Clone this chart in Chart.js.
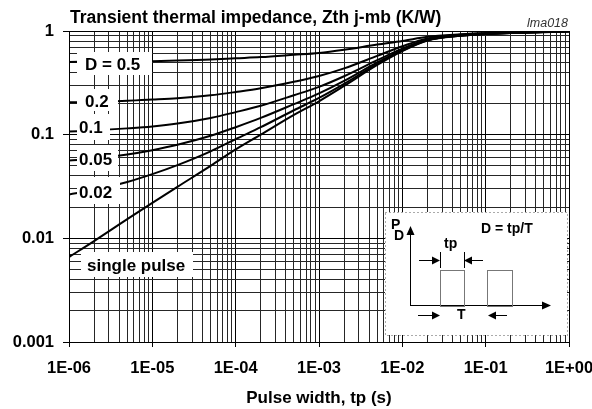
<!DOCTYPE html>
<html>
<head>
<meta charset="utf-8">
<script src="https://cdn.jsdelivr.net/npm/chart.js@4/dist/chart.umd.min.js"></script>
<style>
  html, body { margin: 0; padding: 0; background: #fff; overflow: hidden; }
  canvas { display: block; }
</style>
</head>
<body>
<canvas id="zth" width="592" height="409"></canvas>
<script>
// Transient thermal impedance Zth j-mb vs pulse width, per duty cycle

const pulseWidth = [1e-6, 2e-6, 5e-6, 1e-5, 2e-5, 5e-5, 1e-4, 2e-4, 5e-4, 1e-3, 2e-3, 5e-3, 1e-2, 2e-2, 5e-2, 1e-1, 2e-1, 5e-1, 1];

const zthD05    = [0.503, 0.505, 0.508, 0.512, 0.518, 0.530, 0.545, 0.560, 0.590, 0.615, 0.660, 0.740, 0.800, 0.880, 0.930, 0.955, 0.970, 0.985, 0.998];
const zthD02    = [0.205, 0.2075, 0.212, 0.218, 0.225, 0.240, 0.258, 0.280, 0.324, 0.368, 0.436, 0.576, 0.712, 0.848, 0.920, 0.948, 0.964, 0.980, 0.995];
const zthD01    = [0.107, 0.110, 0.115, 0.120, 0.128, 0.145, 0.165, 0.190, 0.240, 0.289, 0.366, 0.523, 0.676, 0.829, 0.910, 0.942, 0.960, 0.978, 0.993];
const zthD005   = [0.0563, 0.0589, 0.0645, 0.0709, 0.0798, 0.0975, 0.118, 0.145, 0.197, 0.250, 0.330, 0.497, 0.658, 0.820, 0.905, 0.938, 0.957, 0.976, 0.992];
const zthD002   = [0.0265, 0.0292, 0.035, 0.0416, 0.0508, 0.069, 0.0906, 0.118, 0.172, 0.226, 0.309, 0.481, 0.647, 0.814, 0.902, 0.936, 0.956, 0.976, 0.991];
const zthSingle = [0.0066, 0.0094, 0.0153, 0.022, 0.0314, 0.050, 0.072, 0.100, 0.155, 0.210, 0.295, 0.470, 0.640, 0.810, 0.900, 0.935, 0.955, 0.975, 0.990];

const xDecades = [1e-6, 1e-5, 1e-4, 1e-3, 1e-2, 1e-1, 1];
const xTickLabels = ['1E-06', '1E-05', '1E-04', '1E-03', '1E-02', '1E-01', '1E+00'];
const yDecades = [0.001, 0.01, 0.1, 1];
const yTickLabels = ['0.001', '0.01', '0.1', '1'];

const FONT = "'Liberation Sans', Arial, Helvetica, sans-serif";

function pts(arr) {
  return arr.map((v, i) => ({ x: pulseWidth[i], y: v }));
}

function logTicks(decades, labels) {
  const t = [];
  decades.forEach((d, i) => {
    if (i === decades.length - 1) { t.push({ value: d, major: true, lbl: labels[i] }); return; }
    for (let m = 1; m <= 9; m++) t.push({ value: d * m, major: m === 1, lbl: m === 1 ? labels[i] : '' });
  });
  return t;
}

const gridOpts = {
  color: c => (c.tick && c.tick.major) ? '#000' : '#262626',
  tickColor: c => (c.tick && c.tick.major) ? '#000' : 'rgba(0,0,0,0)',
  lineWidth: 1,
  tickLength: 6
};

function line(data) {
  return {
    data: pts(data),
    borderColor: '#000',
    borderWidth: 2,
    pointRadius: 0,
    fill: false,
    cubicInterpolationMode: 'monotone'
  };
}

// white label boxes, inset diagram and free texts
const decorPlugin = {
  id: 'decor',
  afterDatasetsDraw(chart) {
    const c = chart.ctx;
    c.save();

    // curve labels
    const labels = [
      { t: 'D = 0.5', box: [77, 52, 75, 23], tx: 85, ty: 70 },
      { t: '0.2', box: [77, 89, 41, 22], tx: 85, ty: 107 },
      { t: '0.1', box: [77, 114, 33, 26], tx: 79, ty: 133 },
      { t: '0.05', box: [77, 145, 41, 26], tx: 79, ty: 165 },
      { t: '0.02', box: [77, 177, 43, 27], tx: 79, ty: 198 },
      { t: 'single pulse', box: [81, 252, 112, 25], tx: 87, ty: 271 }
    ];
    c.font = 'bold 17px ' + FONT;
    c.textBaseline = 'alphabetic';
    c.textAlign = 'left';
    labels.forEach(l => {
      c.fillStyle = '#fff';
      c.fillRect(l.box[0], l.box[1], l.box[2], l.box[3]);
      c.fillStyle = '#000';
      c.fillText(l.t, l.tx, l.ty);
    });

    // inset
    c.fillStyle = '#fff';
    c.fillRect(385, 212, 182, 123);
    c.strokeStyle = '#555';
    c.lineWidth = 1;
    c.setLineDash([1, 3]);
    c.strokeRect(385.5, 212.5, 182, 123);
    c.setLineDash([]);

    c.strokeStyle = '#000';
    c.fillStyle = '#000';
    c.beginPath();
    c.moveTo(410.5, 306); c.lineTo(410.5, 234);
    c.moveTo(410, 305.5); c.lineTo(542, 305.5);
    c.stroke();
    // arrow heads
    c.beginPath(); c.moveTo(410.5, 226); c.lineTo(406.5, 235); c.lineTo(414.5, 235); c.closePath(); c.fill();
    c.beginPath(); c.moveTo(551, 305.5); c.lineTo(542, 301.5); c.lineTo(542, 309.5); c.closePath(); c.fill();

    // pulses
    c.strokeStyle = '#777';
    c.strokeRect(440.5, 270.5, 24, 36);
    c.strokeRect(487.5, 270.5, 25, 36);

    function arrowRight(x0, x1, y) {
      c.beginPath(); c.moveTo(x0, y + 0.5); c.lineTo(x1 - 6, y + 0.5); c.stroke();
      c.beginPath(); c.moveTo(x1, y + 0.5); c.lineTo(x1 - 8, y - 3.5); c.lineTo(x1 - 8, y + 4.5); c.closePath(); c.fill();
    }
    function arrowLeft(x0, x1, y) {
      c.beginPath(); c.moveTo(x0, y + 0.5); c.lineTo(x1 + 6, y + 0.5); c.stroke();
      c.beginPath(); c.moveTo(x1, y + 0.5); c.lineTo(x1 + 8, y - 3.5); c.lineTo(x1 + 8, y + 4.5); c.closePath(); c.fill();
    }
    c.strokeStyle = '#000';
    arrowRight(419, 440, 260);
    arrowLeft(483, 464, 260);
    c.beginPath();
    c.moveTo(440.5, 252); c.lineTo(440.5, 268);
    c.moveTo(464.5, 252); c.lineTo(464.5, 268);
    c.stroke();
    arrowRight(418, 440, 315);
    arrowLeft(507, 488, 315);

    c.font = 'bold 14px ' + FONT;
    c.fillText('P', 391, 229);
    c.fillText('D', 394, 240);
    c.fillText('D = tp/T', 481, 233);
    c.fillText('tp', 444, 248);
    c.fillText('T', 457, 319);

    // titles
    c.font = 'bold 17.5px ' + FONT;
    c.fillText('Transient thermal impedance, Zth j-mb (K/W)', 70, 23);
    c.textAlign = 'center';
    c.font = 'bold 17px ' + FONT;
    c.fillText('Pulse width, tp (s)', 319, 403);
    c.font = 'italic 12.5px ' + FONT;
    c.fillStyle = '#333';
    c.textAlign = 'right';
    c.fillText('lma018', 568, 27);

    c.restore();
  }
};

new Chart(document.getElementById('zth'), {
  type: 'line',
  data: {
    datasets: [
      line(zthD05), line(zthD02), line(zthD01), line(zthD005), line(zthD002), line(zthSingle)
    ]
  },
  options: {
    responsive: false,
    animation: false,
    events: [],
    layout: { padding: { top: 31, right: 23, left: 0, bottom: 0 } },
    plugins: { legend: { display: false }, tooltip: { enabled: false } },
    scales: {
      x: {
        type: 'logarithmic',
        min: 1e-6,
        max: 1,
        afterBuildTicks: s => { s.ticks = logTicks(xDecades, xTickLabels); },
        afterFit: s => { s.height = 67; s.paddingLeft = 0; s.paddingRight = 0; },
        ticks: {
          autoSkip: false,
          maxRotation: 0,
          padding: 12,
          color: '#000',
          font: { family: FONT, size: 16.5, weight: 'bold' },
          callback: (v, i, t) => t[i].lbl
        },
        grid: Object.assign({}, gridOpts, { tickLength: 5 }),
        border: { color: '#000', width: 1 }
      },
      y: {
        type: 'logarithmic',
        min: 0.001,
        max: 1,
        afterBuildTicks: s => { s.ticks = logTicks(yDecades, yTickLabels); },
        afterFit: s => { s.width = 69; s.paddingTop = 0; s.paddingBottom = 0; },
        ticks: {
          autoSkip: false,
          padding: 9,
          color: '#000',
          font: { family: FONT, size: 16.5, weight: 'bold' },
          callback: (v, i, t) => t[i].lbl
        },
        grid: gridOpts,
        border: { color: '#000', width: 1 }
      }
    }
  },
  plugins: [decorPlugin]
});
</script>
</body>
</html>
